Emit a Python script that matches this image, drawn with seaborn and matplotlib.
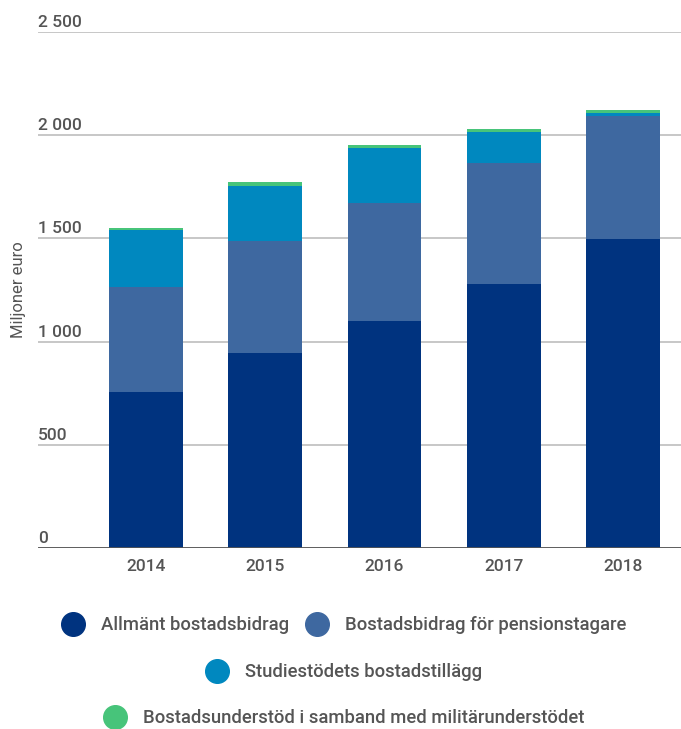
import numpy as np
import pandas as pd
import seaborn as sns
import matplotlib.pyplot as plt
from matplotlib.lines import Line2D

sns.set_theme(style="white")
plt.rcParams['font.family'] = ['Roboto', 'DejaVu Sans']

years = ['2014', '2015', '2016', '2017', '2018']
allmant = [756, 945, 1101, 1279, 1496]
pension = [510, 542, 572, 585, 596]
studie = [274, 267, 266, 152, 14]
militar = [12, 20, 15, 13, 14]

names = ['Allmänt bostadsbidrag', 'Bostadsbidrag för pensionstagare',
         'Studiestödets bostadstillägg', 'Bostadsunderstöd i samband med militärunderstödet']
colors = ['#00337F', '#3E68A0', '#0088BF', '#47C47A']
yticks = [0, 500, 1000, 1500, 2000, 2500]
ytick_labels = ['0', '500', '1 000', '1 500', '2 000', '2 500']

df = pd.DataFrame({'year': years, 'a': allmant, 'p': pension, 's': studie, 'm': militar})
df['c1'] = df['a']
df['c2'] = df['c1'] + df['p']
df['c3'] = df['c2'] + df['s']
df['c4'] = df['c3'] + df['m']

fig = plt.figure(figsize=(6.81, 7.29), dpi=100)
ax = fig.add_axes([38 / 681, (729 - 548) / 729, 1 - 38 / 681, (548 - 32) / 729])

# stacked by overlaying cumulative totals, biggest first
for col, c in zip(['c4', 'c3', 'c2', 'c1'], colors[::-1]):
    sns.barplot(data=df, x='year', y=col, color=c, width=0.62, saturation=1,
                linewidth=0, ax=ax, zorder=3)

ax.set_ylim(0, 2500)
ax.set_xlim(-0.905, 4.486)
ax.set_yticks(yticks)
ax.set_yticklabels([])
ax.tick_params(axis='y', length=0)
for v, lab in zip(yticks, ytick_labels):
    ax.axhline(v, color='#bdbdbd', lw=1.2, zorder=1)
    ax.annotate(lab, xy=(0, v), xycoords=ax.get_yaxis_transform(),
                xytext=(0, 1.5), textcoords='offset points', ha='left', va='bottom',
                fontsize=12.5, color='#555555', fontweight='medium')
ax.axhline(0, color='#555555', lw=2, zorder=4)

for s in ax.spines.values():
    s.set_visible(False)
ax.set_xlabel('')
ax.set_ylabel('')
fig.text(19 / 681, (729 - 290) / 729, 'Miljoner euro', rotation=90, ha='center', va='center',
         fontsize=12, color='#555555')
ax.tick_params(axis='x', length=0, pad=8, labelsize=12.5, labelcolor='#555555')
for t in ax.get_xticklabels():
    t.set_fontweight('medium')

def handle(c):
    return Line2D([], [], marker='o', linestyle='none', markersize=17,
                  markerfacecolor=c, markeredgecolor=c)

leg_kw = dict(frameon=False, prop={'size': 13.3, 'weight': 'medium'}, labelcolor='#555555',
              handletextpad=0.5, columnspacing=0.5, loc='center')
l1 = fig.legend([handle(colors[0]), handle(colors[1])], names[:2], ncol=2,
                bbox_to_anchor=(0.5, (729 - 625) / 729), **leg_kw)
l2 = fig.legend([handle(colors[2])], names[2:3],
                bbox_to_anchor=(0.5, (729 - 672) / 729), **leg_kw)
l3 = fig.legend([handle(colors[3])], names[3:4],
                bbox_to_anchor=(0.5, (729 - 718) / 729), **leg_kw)

fig.savefig('out.png', dpi=100)
